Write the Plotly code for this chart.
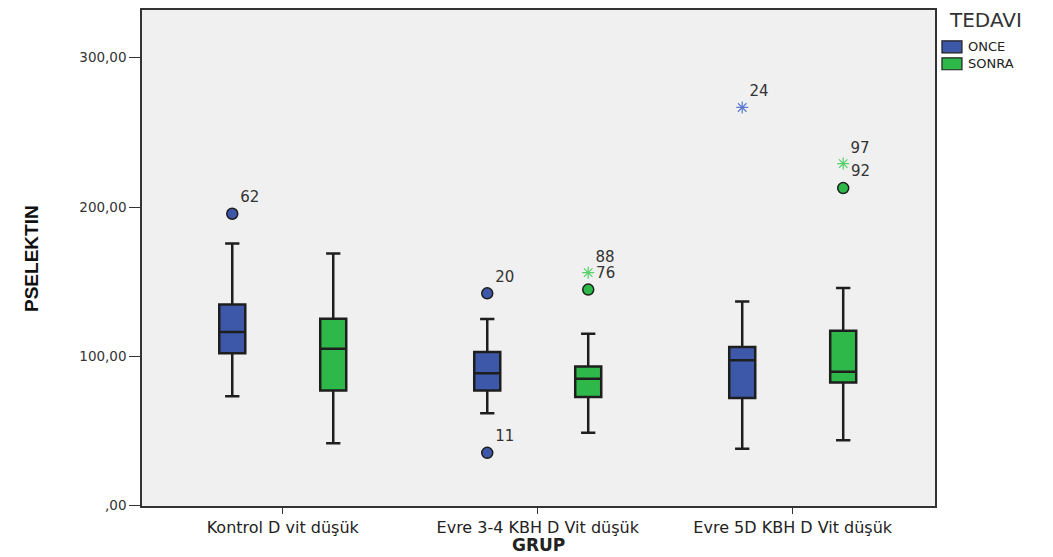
import plotly.graph_objects as go

# ---- data ----
categories = ["Kontrol D vit düşük", "Evre 3-4 KBH D Vit düşük", "Evre 5D KBH D Vit düşük"]
series_names = ["ONCE", "SONRA"]
legend_title = "TEDAVI"

once_lower = [73.3, 61.8, 38.0]
once_q1 = [102.0, 77.1, 72.0]
once_median = [116.2, 88.7, 97.3]
once_q3 = [134.7, 102.9, 106.2]
once_upper = [175.5, 124.9, 136.7]

sonra_lower = [41.8, 48.7, 43.8]
sonra_q1 = [77.1, 72.7, 82.4]
sonra_median = [105.1, 84.9, 89.6]
sonra_q3 = [125.1, 93.1, 117.1]
sonra_upper = [168.9, 115.1, 145.8]

once_out_cat = [0, 1, 1, 2]
once_out_val = [195.5, 142.2, 35.3, 266.7]
once_out_label = ["62", "20", "11", "24"]
once_out_kind = ["circle", "circle", "circle", "star"]

sonra_out_cat = [1, 1, 2, 2]
sonra_out_val = [156.0, 144.7, 229.1, 212.7]
sonra_out_label = ["88", "76", "97", "92"]
sonra_out_kind = ["star", "circle", "star", "circle"]

y_tickvals = [0, 100, 200, 300]
y_ticktext = [",00", "100,00", "200,00", "300,00"]

# ---- style ----
OFFSET = 0.198
BOX_W = 0.102
BLUE = "#3d58a8"
GREEN = "#2fb84a"
BLUE_STAR = "#5b7bd0"
GREEN_STAR = "#55d06a"
EDGE = "#1e1e1e"
FONT = "DejaVu Sans, Liberation Sans, Arial, sans-serif"

fig = go.Figure()

def add_series(name, sign, lower, q1, med, q3, upper, color, star_color,
               out_cat, out_val, out_lab, out_kind):
    xs = [i + sign * OFFSET for i in range(len(categories))]
    fig.add_trace(go.Box(
        x=xs, q1=q1, median=med, q3=q3, lowerfence=lower, upperfence=upper,
        width=BOX_W, whiskerwidth=0.55, fillcolor=color,
        line=dict(color=EDGE, width=2.5), boxpoints=False,
        showlegend=False, hoverinfo="skip", name=name))
    for kind in ["circle", "star"]:
        idx = [k for k, v in enumerate(out_kind) if v == kind]
        if not idx:
            continue
        ox = [out_cat[k] + sign * OFFSET for k in idx]
        oy = [out_val[k] for k in idx]
        ot = [out_lab[k] for k in idx]
        if kind == "circle":
            marker = dict(symbol="circle", size=11, color=color,
                          line=dict(color=EDGE, width=1.5))
        else:
            marker = dict(symbol="asterisk-open", size=10, color=star_color,
                          line=dict(color=star_color, width=1.2))
        fig.add_trace(go.Scatter(
            x=ox, y=oy, mode="markers+text", text=ot, textposition="top right",
            textfont=dict(family=FONT, size=15, color="#333333"),
            marker=marker, showlegend=False, hoverinfo="skip"))

add_series(series_names[0], -1, once_lower, once_q1, once_median, once_q3, once_upper,
           BLUE, BLUE_STAR, once_out_cat, once_out_val, once_out_label, once_out_kind)
add_series(series_names[1], 1, sonra_lower, sonra_q1, sonra_median, sonra_q3, sonra_upper,
           GREEN, GREEN_STAR, sonra_out_cat, sonra_out_val, sonra_out_label, sonra_out_kind)

# ---- legend (drawn as shapes + text, placed like the SPSS legend) ----
legend_colors = [BLUE, GREEN]
shapes = []
annotations = [
    dict(text=legend_title, xref="paper", yref="paper", x=1.0164, y=0.98,
         xanchor="left", yanchor="middle", showarrow=False, borderpad=0,
         font=dict(family=FONT, size=20, color="#333333")),
]
sw_top = [0.9378, 0.9036]
sw_h = 0.0241
for k, nm in enumerate(series_names):
    shapes.append(dict(type="rect", xref="paper", yref="paper",
                       x0=1.0088, x1=1.034, y0=sw_top[k] - sw_h, y1=sw_top[k],
                       fillcolor=legend_colors[k], line=dict(color=EDGE, width=1.2)))
    annotations.append(dict(text=nm, xref="paper", yref="paper", x=1.0404,
                            y=sw_top[k] - sw_h / 2, xanchor="left", yanchor="middle",
                            showarrow=False, borderpad=0,
                            font=dict(family=FONT, size=13, color="#222222")))

annotations += [
    dict(text="<b>GRUP</b>", xref="paper", yref="paper", x=0.5, y=-0.0562,
         xanchor="center", yanchor="top", showarrow=False, borderpad=0,
         font=dict(family=FONT, size=17, color="#222222")),
    dict(text="<b>PSELEKTIN</b>", xref="paper", yref="paper", x=-0.14, y=0.5,
         xanchor="center", yanchor="middle", showarrow=False, textangle=-90,
         font=dict(family="Liberation Sans, Arial, sans-serif",
                   size=19, color="#111111")),
]

fig.update_layout(
    width=1045, height=549,
    margin=dict(l=134, r=118, t=0, b=51),
    paper_bgcolor="white", plot_bgcolor="#f0f0f0",
    font=dict(family=FONT, color="#222222"),
    boxmode="overlay", showlegend=False,
    xaxis=dict(
        range=[-0.552, 2.558], tickvals=list(range(len(categories))), ticktext=categories,
        showgrid=False, zeroline=False, showline=True, linecolor="#333333", linewidth=1.5,
        mirror=True, ticks="outside", ticklen=6, tickcolor="#333333",
        tickfont=dict(family=FONT, size=16, color="#222222")),
    yaxis=dict(
        range=[-0.3, 332.0], tickvals=y_tickvals, ticktext=y_ticktext,
        showgrid=False, zeroline=False, showline=True, linecolor="#333333", linewidth=1.5,
        mirror=True, ticks="outside", ticklen=11, tickcolor="#333333",
        tickfont=dict(family=FONT, size=13.5, color="#333333")),
    shapes=shapes,
    annotations=annotations,
)

fig.write_html("out.html")
